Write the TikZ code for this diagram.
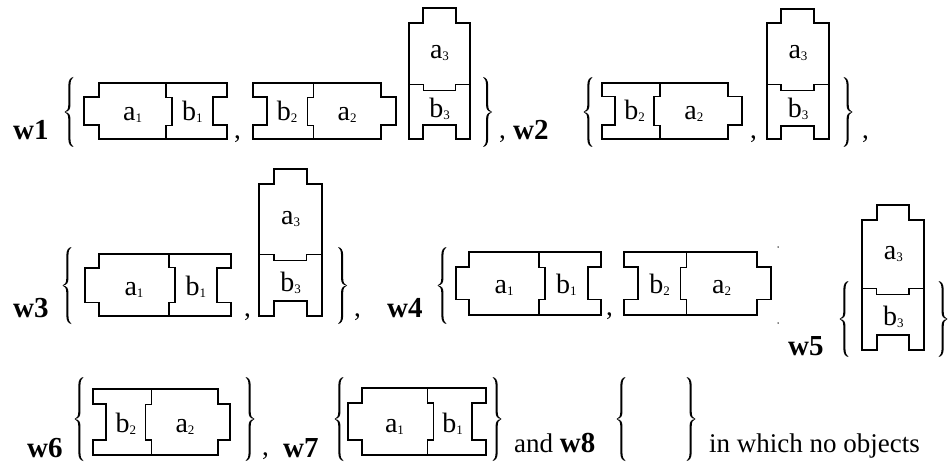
\documentclass[tikz,border=0pt]{standalone}
\usepackage{fontspec}
\setmainfont{Liberation Serif}
\newcommand\lblfont{\fontsize{28}{30}\selectfont}
\newcommand\wfont{\fontsize{29}{31}\selectfont\bfseries}
\newcommand\txtfont{\fontsize{27}{29}\selectfont}
\newcommand\sub[1]{\raisebox{-2pt}{\fontsize{13}{14}\selectfont #1}}
\tikzset{
  piece/.style={draw, line width=1.8pt, line join=miter},
  joint/.style={line width=1.3pt},
  lbl/.style={anchor=base, inner sep=0pt, font=\lblfont},
  wtxt/.style={anchor=base west, inner sep=0pt, font=\wfont},
  plain/.style={anchor=base west, inner sep=0pt, font=\txtfont},
  speck/.style={fill, circle, inner sep=0pt, minimum size=1.5pt}
}
% curly brace: cx cy H dir(1 = open, -1 = close)
\newcommand\curly[4]{%
  \pgfmathsetmacro\hh{#3/2}%
  \begin{scope}[shift={(#1,#2)}, xscale=#4]
    \fill (4.5,{-\hh}) .. controls (1.2,{-\hh+0.6}) and (-0.7,{-\hh+3}) .. (-0.7,{-\hh+9})
      -- (-0.7,-7) .. controls (-0.7,-3) and (-1.8,-0.7) .. (-4.5,0)
      .. controls (-1.8,0.7) and (-0.7,3) .. (-0.7,7)
      -- (-0.7,{\hh-9}) .. controls (-0.7,{\hh-3}) and (1.2,{\hh-0.6}) .. (4.5,{\hh})
      .. controls (2.4,{\hh-1.3}) and (1.4,{\hh-4}) .. (1.4,{\hh-9})
      -- (1.4,7) .. controls (1.4,3) and (0.2,0.4) .. (-4.5,0)
      .. controls (0.2,-0.4) and (1.4,-3) .. (1.4,-7)
      -- (1.4,{-\hh+9}) .. controls (1.4,{-\hh+4}) and (2.4,{-\hh+1.3}) .. (4.5,{-\hh}) -- cycle;
  \end{scope}}
% L A J N R Y0 Y1 inset
\newcommand\pieceAB[8]{%
  \draw[piece] ({#2},{#6}) -- ({#5},{#6}) -- ({#5},{#6+#8}) -- ({#4},{#6+#8}) -- ({#4},{#7-#8}) -- ({#5},{#7-#8}) -- ({#5},{#7}) -- ({#2},{#7}) -- ({#2},{#7-#8}) -- ({#1},{#7-#8}) -- ({#1},{#6+#8}) -- ({#2},{#6+#8}) -- cycle;
  \draw[joint] ({#3},{#6}) -- ({#3},{#6+#8}) -- ({#3+6},{#6+#8}) -- ({#3+6},{#7-#8}) -- ({#3},{#7-#8}) -- ({#3},{#7});
  \node[lbl] at ({(#2+#3)/2},{#6+0.66*(#7-#6)}) {a\sub{1}};
  \node[lbl] at ({(#3+6+#4)/2},{#6+0.66*(#7-#6)}) {b\sub{1}};
}
% R0 N J A L Y0 Y1 inset
\newcommand\pieceBA[8]{%
  \draw[piece] ({#1},{#6}) -- ({#4},{#6}) -- ({#4},{#6+#8}) -- ({#5},{#6+#8}) -- ({#5},{#7-#8}) -- ({#4},{#7-#8}) -- ({#4},{#7}) -- ({#1},{#7}) -- ({#1},{#7-#8}) -- ({#2},{#7-#8}) -- ({#2},{#6+#8}) -- ({#1},{#6+#8}) -- cycle;
  \draw[joint] ({#3},{#6}) -- ({#3},{#6+#8}) -- ({#3-6},{#6+#8}) -- ({#3-6},{#7-#8}) -- ({#3},{#7-#8}) -- ({#3},{#7});
  \node[lbl] at ({(#2+#3-6)/2},{#6+0.66*(#7-#6)}) {b\sub{2}};
  \node[lbl] at ({(#3+#4)/2},{#6+0.66*(#7-#6)}) {a\sub{2}};
}
% X0 X1 tx0 tx1 Ytab Yb Yj Ybot
\newcommand\pieceV[8]{%
  \draw[piece] ({#1},{#6}) -- ({#3},{#6}) -- ({#3},{#5}) -- ({#4},{#5}) -- ({#4},{#6}) -- ({#2},{#6}) -- ({#2},{#8}) -- ({#4},{#8}) -- ({#4},{#8-(#6-#5)}) -- ({#3},{#8-(#6-#5)}) -- ({#3},{#8}) -- ({#1},{#8}) -- cycle;
  \draw[joint] ({#1},{#7}) -- ({#3},{#7}) -- ({#3},{#7+6}) -- ({#4},{#7+6}) -- ({#4},{#7}) -- ({#2},{#7});
  \node[lbl] at ({(#1+#2)/2},{#6+0.58*(#7-#6)}) {a\sub{3}};
  \node[lbl] at ({(#1+#2)/2},{#7+0.6*(#8-#7)}) {b\sub{3}};
}
\begin{document}
\begin{tikzpicture}[x=1pt,y=-1pt]
\useasboundingbox[fill=white] (0,0) rectangle (949,462);
% ---------- row 1 ----------
\node[wtxt] (w1) at (13,140) {w1};
\curly{69}{112}{70}{1}
\pieceAB{84.3}{99.3}{166}{212.7}{226.7}{83.3}{139.3}{14}
\node[plain] (c1) at (234,139) {,};
\pieceBA{253.3}{266.7}{313.3}{381}{395.7}{83.3}{139.3}{14}
\pieceV{409}{470}{423.3}{455.7}{8.3}{22.7}{84.3}{139.3}
\curly{487.5}{112}{70}{-1}
\node[plain] (c2) at (499,139) {,};
\node[wtxt] (w2) at (513,140) {w2};
\curly{588}{112}{70}{1}
\pieceBA{601.7}{615}{660}{727.7}{742.3}{83}{138.8}{13.5}
\node[plain] (c3) at (750,139) {,};
\pieceV{767.3}{828.7}{781}{814}{9.3}{22.7}{84.3}{139.3}
\curly{848}{112}{70}{-1}
\node[plain] (c4) at (862,139) {,};
% ---------- row 2 ----------
\node[wtxt] (w3) at (13,317) {w3};
\curly{67}{285.5}{77}{1}
\pieceAB{85}{99}{169}{216.7}{231}{254.3}{316}{13.5}
\node[plain] (c5) at (244,316) {,};
\pieceV{259.3}{322}{274}{306.7}{169.3}{184.3}{254.3}{316}
\curly{342.5}{285.5}{77}{-1}
\node[plain] (c6) at (354,316) {,};
\node[wtxt] (w4) at (387,317) {w4};
\curly{442}{285.5}{77}{1}
\pieceAB{456}{469.3}{539}{587.7}{601}{251.7}{315}{15.6}
\node[plain] (c7) at (606,315) {,};
\pieceBA{624.3}{638.3}{686.7}{756.7}{770.7}{251.7}{315}{15.6}
\node[speck] (s1) at (778,247) {};
\node[speck] (s2) at (778,323) {};
\node[wtxt] (w5) at (788,355) {w5};
\curly{844}{319}{76}{1}
\pieceV{862.3}{924.3}{876.7}{909}{205}{220}{288.3}{350}
\curly{943}{319}{76}{-1}
% ---------- row 3 ----------
\node[wtxt] (w6) at (27,457) {w6};
\curly{79}{419}{84}{1}
\pieceBA{93.3}{106}{151.7}{218.3}{230}{389.3}{455}{15}
\curly{250}{419}{84}{-1}
\node[plain] (c8) at (262,455) {,};
\node[wtxt] (w7) at (283,457) {w7};
\curly{339}{419}{84}{1}
\pieceAB{348.3}{361.7}{427.3}{472}{486}{388}{455}{15}
\curly{497}{419}{84}{-1}
\node[plain] (and) at (514,452) {and {\wfont w8}};
\curly{621}{419}{84}{1}
\curly{691}{419}{84}{-1}
\node[plain] (tail) at (709,452) {in which no objects};
\end{tikzpicture}
\end{document}
